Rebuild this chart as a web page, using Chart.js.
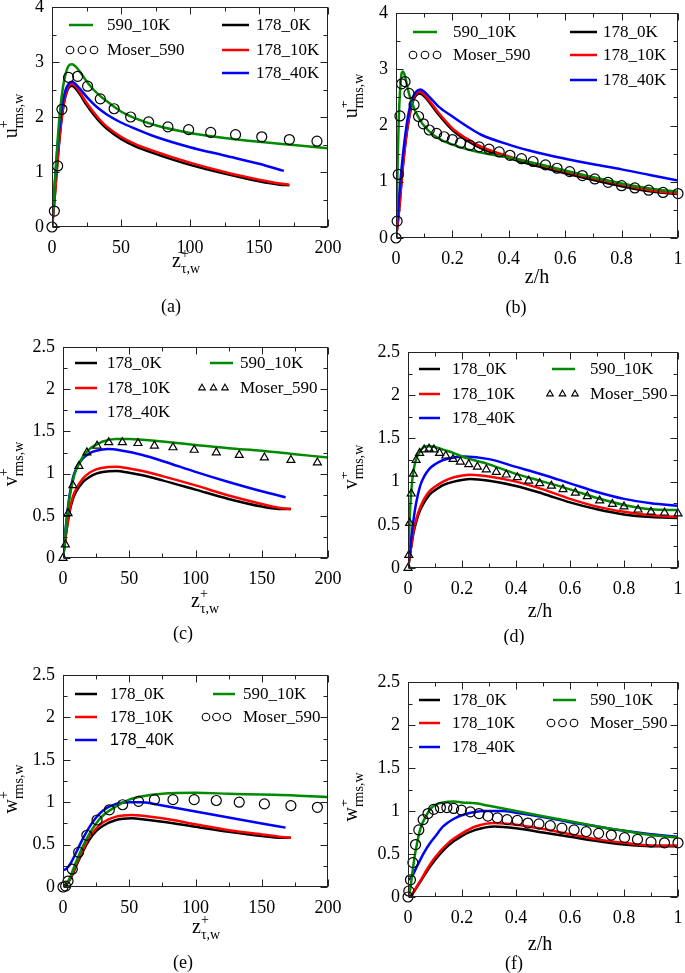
<!DOCTYPE html>
<html>
<head>
<meta charset="utf-8">
<script src="https://cdn.jsdelivr.net/npm/chart.js@4.4.1/dist/chart.umd.min.js"></script>
<style>
  body { margin: 0; background: #fff; width: 685px; height: 973px; position: relative; overflow: hidden; }
  canvas { position: absolute; }
  .warm { position: absolute; left: -999px; top: 0; }
</style>
</head>
<body>
<span class="warm" style="font-family:'Liberation Serif'">z/h τ,w</span>
<span class="warm" style="font-family:'Liberation Sans'">178_40K</span>
<canvas id="pa"></canvas><canvas id="pb"></canvas>
<canvas id="pc"></canvas><canvas id="pd"></canvas>
<canvas id="pe"></canvas><canvas id="pf"></canvas>
<script>
// series names, colours
const seriesNames = ['178_0K', '178_10K', '178_40K', '590_10K', 'Moser_590'];
const seriesColors = ['#000000', '#ff0000', '#0000ff', '#008a00', '#000000'];

// tick labels
const wallTicks = [0, 50, 100, 150, 200];
const outerTicks = [0, 0.2, 0.4, 0.6, 0.8, 1];
const uTicks = [0, 1, 2, 3, 4];
const vwTicks = [0, 0.5, 1, 1.5, 2, 2.5];

// (a) u_rms vs z+
const a_178_0K = [[0,0],[1,0.25],[2,0.55],[4,1.2],[6,1.75],[8,2.15],[10,2.4],[12,2.53],[14.5,2.57],[17,2.52],[20,2.42],[25,2.22],[30,2.05],[35,1.9],[40,1.78],[50,1.6],[60,1.47],[75,1.33],[100,1.13],[125,0.97],[150,0.83],[165,0.77],[172,0.76]];
const a_178_10K = [[0,0],[1,0.25],[2,0.55],[4,1.2],[6,1.77],[8,2.17],[10,2.43],[12,2.56],[14.5,2.6],[17,2.56],[20,2.46],[25,2.26],[30,2.09],[35,1.94],[40,1.82],[50,1.64],[60,1.51],[75,1.37],[100,1.17],[125,1.0],[150,0.86],[165,0.79],[172,0.77]];
const a_178_40K = [[0,0],[1,0.4],[2,0.8],[4,1.45],[6,1.95],[8,2.3],[10,2.5],[12,2.6],[14.5,2.64],[17,2.6],[20,2.52],[25,2.37],[30,2.24],[35,2.13],[40,2.04],[50,1.9],[60,1.79],[75,1.64],[100,1.45],[125,1.3],[150,1.15],[168,1.02]];
const a_590_10K = [[0,0],[1,0.35],[2,0.75],[4,1.55],[6,2.15],[8,2.55],[10,2.8],[12,2.93],[14.5,2.96],[17,2.92],[20,2.83],[25,2.65],[30,2.5],[35,2.38],[40,2.28],[50,2.1],[60,1.98],[75,1.85],[100,1.71],[125,1.62],[150,1.55],[175,1.49],[200,1.43]];
const a_moser = [[0,0],[1.7,0.29],[4.1,1.11],[7.2,2.14],[12,2.72],[18.6,2.74],[25.8,2.56],[35,2.33],[45,2.15],[57,2.0],[70,1.91],[84,1.82],[99,1.77],[115,1.72],[133,1.68],[152,1.64],[172,1.59],[192,1.56]];

// (b) u_rms vs z/h
const b_178_0K = [[0,0],[0.006,0.25],[0.012,0.55],[0.023,1.2],[0.035,1.75],[0.047,2.15],[0.058,2.4],[0.07,2.53],[0.084,2.57],[0.1,2.52],[0.12,2.4],[0.15,2.2],[0.2,1.92],[0.25,1.74],[0.3,1.6],[0.4,1.42],[0.5,1.28],[0.6,1.15],[0.7,1.03],[0.8,0.92],[0.9,0.83],[1,0.78]];
const b_178_10K = [[0,0],[0.006,0.25],[0.012,0.55],[0.023,1.2],[0.035,1.77],[0.047,2.17],[0.058,2.43],[0.07,2.56],[0.084,2.6],[0.1,2.55],[0.12,2.43],[0.15,2.23],[0.2,1.95],[0.25,1.77],[0.3,1.63],[0.4,1.45],[0.5,1.31],[0.6,1.18],[0.7,1.06],[0.8,0.95],[0.9,0.85],[1,0.79]];
const b_178_40K = [[0,0],[0.006,0.4],[0.012,0.8],[0.024,1.45],[0.036,1.95],[0.048,2.3],[0.06,2.5],[0.071,2.6],[0.086,2.64],[0.1,2.6],[0.12,2.5],[0.15,2.34],[0.2,2.16],[0.25,1.99],[0.3,1.84],[0.4,1.66],[0.5,1.52],[0.6,1.41],[0.7,1.31],[0.8,1.22],[0.9,1.12],[1,1.02]];
const b_590_10K = [[0,0],[0.002,0.35],[0.0034,0.75],[0.0068,1.55],[0.01,2.15],[0.0136,2.55],[0.017,2.8],[0.02,2.93],[0.025,2.96],[0.029,2.92],[0.034,2.83],[0.042,2.65],[0.05,2.5],[0.06,2.36],[0.07,2.24],[0.085,2.1],[0.1,1.99],[0.13,1.84],[0.17,1.72],[0.2,1.66],[0.25,1.58],[0.3,1.52],[0.4,1.43],[0.5,1.32],[0.6,1.2],[0.7,1.08],[0.8,0.97],[0.9,0.88],[1,0.82]];
const b_moser = [[0,0],[0.004,0.3],[0.008,1.13],[0.014,2.17],[0.02,2.74],[0.032,2.78],[0.046,2.57],[0.064,2.37],[0.08,2.16],[0.097,2.03],[0.118,1.92],[0.144,1.86],[0.171,1.8],[0.2,1.75],[0.229,1.69],[0.262,1.65],[0.295,1.62],[0.33,1.58],[0.366,1.53],[0.404,1.47],[0.445,1.41],[0.486,1.36],[0.53,1.3],[0.571,1.24],[0.616,1.18],[0.661,1.11],[0.705,1.05],[0.752,0.99],[0.8,0.93],[0.847,0.89],[0.896,0.85],[0.947,0.81],[1,0.79]];

// (c) v_rms vs z+
const c_178_0K = [[0,0],[1,0.12],[2,0.25],[3,0.36],[5,0.55],[7.5,0.7],[10,0.79],[15,0.9],[20,0.96],[25,1.0],[30,1.02],[40,1.03],[50,1.01],[60,0.98],[75,0.92],[100,0.81],[125,0.7],[150,0.61],[165,0.58],[172,0.58]];
const c_178_10K = [[0,0],[1,0.12],[2,0.26],[3,0.37],[5,0.57],[7.5,0.73],[10,0.82],[15,0.94],[20,1.01],[25,1.05],[30,1.07],[40,1.08],[50,1.06],[60,1.03],[75,0.97],[100,0.86],[125,0.74],[150,0.64],[165,0.59],[172,0.58]];
const c_178_40K = [[0,0],[1,0.18],[2,0.35],[3,0.5],[5,0.75],[7.5,0.95],[10,1.06],[15,1.18],[20,1.24],[25,1.27],[34,1.29],[45,1.27],[60,1.22],[75,1.15],[100,1.02],[125,0.9],[150,0.79],[168,0.72]];
const c_590_10K = [[0,0],[1,0.17],[2,0.33],[3,0.48],[5,0.72],[7.5,0.92],[10,1.05],[15,1.2],[20,1.29],[25,1.34],[30,1.38],[40,1.41],[50,1.41],[60,1.4],[75,1.38],[100,1.34],[125,1.3],[150,1.27],[175,1.23],[200,1.19]];
const c_moser = [[0,0],[1.8,0.16],[3.8,0.53],[7.5,0.86],[12,1.09],[18,1.25],[25.7,1.33],[34.5,1.37],[44.8,1.37],[56.6,1.36],[69,1.33],[83,1.31],[99,1.28],[115.7,1.25],[133,1.22],[152,1.19],[172,1.16],[192,1.13]];

// (d) v_rms vs z/h
const d_178_0K = [[0,0],[0.006,0.12],[0.012,0.25],[0.02,0.4],[0.03,0.53],[0.045,0.67],[0.06,0.76],[0.08,0.85],[0.1,0.9],[0.13,0.96],[0.17,1.0],[0.23,1.03],[0.3,1.01],[0.4,0.95],[0.5,0.86],[0.6,0.76],[0.7,0.68],[0.8,0.62],[0.9,0.59],[1,0.58]];
const d_178_10K = [[0,0],[0.006,0.12],[0.012,0.26],[0.02,0.42],[0.03,0.56],[0.045,0.7],[0.06,0.8],[0.08,0.89],[0.1,0.94],[0.13,1.0],[0.17,1.05],[0.23,1.08],[0.3,1.06],[0.4,1.0],[0.5,0.91],[0.6,0.8],[0.7,0.71],[0.8,0.65],[0.9,0.61],[1,0.59]];
const d_178_40K = [[0,0],[0.006,0.18],[0.012,0.35],[0.02,0.55],[0.03,0.75],[0.045,0.95],[0.06,1.06],[0.08,1.15],[0.1,1.2],[0.13,1.25],[0.17,1.28],[0.21,1.29],[0.3,1.26],[0.4,1.17],[0.5,1.08],[0.6,0.98],[0.7,0.88],[0.8,0.8],[0.9,0.75],[1,0.72]];
const d_590_10K = [[0,0],[0.0017,0.17],[0.0034,0.33],[0.005,0.48],[0.0085,0.72],[0.013,0.92],[0.017,1.05],[0.025,1.2],[0.034,1.29],[0.042,1.34],[0.051,1.38],[0.068,1.41],[0.085,1.41],[0.1,1.4],[0.13,1.37],[0.17,1.33],[0.2,1.29],[0.3,1.2],[0.4,1.09],[0.5,1.0],[0.6,0.91],[0.7,0.81],[0.8,0.73],[0.9,0.68],[1,0.67]];
const d_moser = [[0,0],[0.003,0.15],[0.006,0.52],[0.012,0.86],[0.02,1.09],[0.03,1.25],[0.043,1.33],[0.06,1.37],[0.078,1.38],[0.096,1.37],[0.117,1.33],[0.14,1.3],[0.167,1.26],[0.194,1.23],[0.225,1.2],[0.257,1.17],[0.29,1.14],[0.327,1.11],[0.364,1.08],[0.405,1.05],[0.447,1.01],[0.488,0.98],[0.531,0.95],[0.574,0.91],[0.62,0.87],[0.664,0.83],[0.71,0.78],[0.757,0.74],[0.8,0.71],[0.852,0.675],[0.9,0.65],[0.95,0.64],[1,0.63]];

// (e) w_rms vs z+
const e_178_0K = [[0,0],[2,0.02],[5,0.08],[7.5,0.16],[10,0.25],[15,0.42],[20,0.56],[25,0.66],[30,0.72],[40,0.79],[52,0.81],[60,0.8],[75,0.77],[100,0.71],[125,0.65],[150,0.6],[165,0.58],[172,0.58]];
const e_178_10K = [[0,0],[2,0.02],[5,0.09],[7.5,0.17],[10,0.27],[15,0.44],[20,0.59],[25,0.69],[30,0.76],[40,0.83],[52,0.85],[60,0.84],[75,0.81],[100,0.74],[125,0.67],[150,0.62],[165,0.59],[172,0.58]];
const e_178_40K = [[0,0.2],[2,0.21],[5,0.26],[7.5,0.33],[10,0.41],[15,0.57],[20,0.71],[25,0.82],[30,0.9],[40,0.98],[50,1.0],[60,1.0],[75,0.96],[100,0.89],[125,0.82],[150,0.75],[168,0.7]];
const e_590_10K = [[0,0],[2,0.03],[5,0.1],[7.5,0.2],[10,0.3],[15,0.48],[20,0.63],[25,0.75],[30,0.84],[40,0.95],[50,1.03],[60,1.07],[75,1.1],[100,1.11],[125,1.1],[150,1.09],[175,1.08],[200,1.06]];
const e_moser = [[0,0],[2,0.01],[3.8,0.07],[7,0.21],[11.8,0.41],[18,0.61],[25.7,0.79],[35,0.91],[45,0.97],[57,1.01],[69,1.03],[83,1.03],[99,1.03],[115.7,1.02],[133,1.0],[152,0.98],[172,0.96],[192,0.94]];

// (f) w_rms vs z/h
const f_178_0K = [[0,0],[0.012,0.02],[0.03,0.1],[0.05,0.2],[0.07,0.3],[0.1,0.43],[0.15,0.6],[0.2,0.71],[0.25,0.78],[0.32,0.82],[0.4,0.8],[0.5,0.75],[0.6,0.7],[0.7,0.65],[0.8,0.61],[0.9,0.59],[1,0.59]];
const f_178_10K = [[0,0],[0.012,0.02],[0.03,0.11],[0.05,0.21],[0.07,0.32],[0.1,0.46],[0.15,0.63],[0.2,0.74],[0.25,0.82],[0.32,0.86],[0.4,0.84],[0.5,0.79],[0.6,0.73],[0.7,0.67],[0.8,0.63],[0.9,0.6],[1,0.6]];
const f_178_40K = [[0,0.2],[0.01,0.22],[0.02,0.27],[0.04,0.4],[0.06,0.52],[0.08,0.62],[0.1,0.7],[0.13,0.82],[0.17,0.91],[0.22,0.97],[0.28,1.0],[0.35,1.0],[0.4,0.98],[0.5,0.93],[0.6,0.87],[0.7,0.82],[0.8,0.77],[0.9,0.73],[1,0.7]];
const f_590_10K = [[0,0],[0.0034,0.03],[0.0085,0.1],[0.013,0.2],[0.017,0.3],[0.025,0.48],[0.034,0.63],[0.042,0.75],[0.051,0.84],[0.068,0.95],[0.085,1.03],[0.1,1.07],[0.13,1.1],[0.17,1.11],[0.2,1.1],[0.25,1.09],[0.3,1.06],[0.4,1.0],[0.5,0.94],[0.6,0.88],[0.7,0.82],[0.8,0.77],[0.9,0.72],[1,0.69]];
const f_moser = [[0,0],[0.003,0.07],[0.009,0.2],[0.018,0.4],[0.028,0.61],[0.04,0.78],[0.056,0.9],[0.074,0.97],[0.095,1.02],[0.12,1.04],[0.144,1.04],[0.169,1.03],[0.198,1.01],[0.231,0.99],[0.263,0.97],[0.296,0.94],[0.331,0.92],[0.367,0.9],[0.405,0.89],[0.444,0.86],[0.485,0.85],[0.527,0.83],[0.57,0.8],[0.615,0.78],[0.66,0.76],[0.706,0.74],[0.753,0.72],[0.802,0.69],[0.85,0.67],[0.9,0.64],[0.95,0.63],[1,0.63]];

const SERIF = '"Liberation Serif", "DejaVu Serif", serif';
const SANS = '"Liberation Sans", Arial, sans-serif';
const YW = 45, XH = 30;

const wallTitle = { base: 'z', sup: '+', sub: 'τ,w' };

// dataset order: 0 marker, 1 = 590_10K, 2 = 178_40K, 3 = 178_10K, 4 = 178_0K
// legend rows: [dataset, symbol x, row y, symbol length, text x] (page pixels)
const panels = [
  { id: 'pa', cell: [0, 0, 342, 320], area: [52, 7, 328, 227], xt: wallTicks, yt: uTicks, marker: 'circle',
    sets: [a_moser, a_590_10K, a_178_40K, a_178_10K, a_178_0K],
    legend: [[1, 69, 25, 24, 107], [0, 70, 50, 24, 107], [4, 222, 25, 27, 256], [3, 222, 50, 27, 256], [2, 222, 73, 27, 256]],
    yTitle: { base: 'u', x: 17, y: 116 }, xTitle: Object.assign({ x: 172, y: 267 }, wallTitle), tag: ['(a)', 171, 307] },
  { id: 'pb', cell: [342, 0, 343, 320], area: [396, 13, 678, 238], xt: outerTicks, yt: uTicks, marker: 'circle',
    sets: [b_moser, b_590_10K, b_178_40K, b_178_10K, b_178_0K],
    legend: [[1, 413, 32, 24, 453], [0, 413, 55, 24, 453], [4, 570, 32, 27, 603], [3, 570, 55, 27, 603], [2, 570, 80, 27, 603]],
    yTitle: { base: 'u', x: 357, y: 96 }, xTitle: { text: 'z/h', x: 537, y: 283 }, tag: ['(b)', 516, 308] },
  { id: 'pc', cell: [0, 320, 342, 325], area: [63, 347, 328, 558], xt: wallTicks, yt: vwTicks, marker: 'triangle',
    sets: [c_moser, c_590_10K, c_178_40K, c_178_10K, c_178_0K],
    legend: [[4, 75, 363, 22, 107], [3, 75, 388, 22, 107], [2, 75, 412, 22, 107], [1, 210, 363, 23, 240], [0, 202, 388, 23, 240]],
    yTitle: { base: 'v', x: 17, y: 464 }, xTitle: Object.assign({ x: 191, y: 607 }, wallTitle), tag: ['(c)', 183, 634] },
  { id: 'pd', cell: [342, 320, 343, 325], area: [408, 352, 678, 568], xt: outerTicks, yt: vwTicks, marker: 'triangle',
    sets: [d_moser, d_590_10K, d_178_40K, d_178_10K, d_178_0K],
    legend: [[4, 419, 369, 21, 452], [3, 419, 394, 21, 452], [2, 419, 418, 21, 452], [1, 552, 369, 23, 590], [0, 550, 394, 25, 590]],
    yTitle: { base: 'v', x: 357, y: 467 }, xTitle: { text: 'z/h', x: 540, y: 617 }, tag: ['(d)', 514, 637] },
  { id: 'pe', cell: [0, 645, 342, 328], area: [63, 675, 328, 887], xt: wallTicks, yt: vwTicks, marker: 'circle',
    sets: [e_moser, e_590_10K, e_178_40K, e_178_10K, e_178_0K],
    legend: [[4, 75, 694, 22, 110], [3, 75, 717, 22, 110], [2, 75, 740, 22, 110, 'sans'], [1, 213, 694, 22, 243], [0, 206, 717, 21, 243]],
    yTitle: { base: 'w', x: 17, y: 789 }, xTitle: Object.assign({ x: 192, y: 933 }, wallTitle), tag: ['(e)', 183, 963] },
  { id: 'pf', cell: [342, 645, 343, 328], area: [408, 682, 678, 897], xt: outerTicks, yt: vwTicks, marker: 'circle',
    sets: [f_moser, f_590_10K, f_178_40K, f_178_10K, f_178_0K],
    legend: [[4, 419, 700, 21, 452], [3, 419, 723, 21, 452], [2, 419, 747, 21, 452], [1, 553, 700, 23, 590], [0, 551, 723, 23, 590]],
    yTitle: { base: 'w', x: 357, y: 797 }, xTitle: { text: 'z/h', x: 540, y: 950 }, tag: ['(f)', 514, 964] },
];

const nameIdx = [4, 3, 2, 1, 0]; // dataset slot -> seriesNames index

function richTitle(ctx, t, sub, x, y, centred) {
  ctx.font = '20px ' + SERIF;
  const bw = ctx.measureText(t.base).width;
  ctx.font = '14px ' + SERIF;
  const sw = ctx.measureText(sub).width;
  const x0 = centred ? x - (bw + sw) / 2 : x;
  ctx.textAlign = 'left';
  ctx.textBaseline = 'alphabetic';
  ctx.font = '20px ' + SERIF;
  ctx.fillText(t.base, x0, y);
  ctx.font = '14px ' + SERIF;
  ctx.fillText('+', x0 + bw, y - 9);
  ctx.fillText(sub, x0 + bw, y + 6);
}

const panelDeco = {
  id: 'panelDeco',
  afterDatasetsDraw(chart) {
    const { ctx, chartArea: a } = chart;
    const xs = chart.scales.x, ys = chart.scales.y;
    const L = Math.round(a.left) + 0.5, R = Math.round(a.right) - 0.5;
    const T = Math.round(a.top) + 0.5, B = Math.round(a.bottom) - 0.5;
    ctx.save();
    ctx.strokeStyle = '#222';
    ctx.lineWidth = 1;
    ctx.strokeRect(L, T, R - L, B - T);
    const marks = (vals) => {
      const out = [];
      vals.forEach((v, i) => {
        out.push([v, 7]);
        if (i < vals.length - 1) out.push([(v + vals[i + 1]) / 2, 4]);
      });
      return out;
    };
    ctx.beginPath();
    marks(xs.ticks.map(t => t.value)).forEach(([v, len]) => {
      const p = Math.round(xs.getPixelForValue(v)) + 0.5;
      ctx.moveTo(p, B); ctx.lineTo(p, B - len);
      ctx.moveTo(p, T); ctx.lineTo(p, T + len);
    });
    marks(ys.ticks.map(t => t.value)).forEach(([v, len]) => {
      const p = Math.round(ys.getPixelForValue(v)) + 0.5;
      ctx.moveTo(L, p); ctx.lineTo(L + len, p);
      ctx.moveTo(R, p); ctx.lineTo(R - len, p);
    });
    ctx.stroke();
    ctx.restore();
  },
  afterDraw(chart, args, o) {
    const ctx = chart.ctx;
    const p = o.panel;
    const ox = p.cell[0], oy = p.cell[1];
    ctx.save();
    // legend inside plot
    p.legend.forEach(([di, sx, sy, w, tx, fam]) => {
      const ds = chart.data.datasets[di];
      const x = sx - ox, y = sy - oy;
      if (ds.showLine) {
        ctx.strokeStyle = ds.borderColor;
        ctx.lineWidth = 2.5;
        ctx.beginPath(); ctx.moveTo(x, y); ctx.lineTo(x + w, y); ctx.stroke();
      } else {
        ctx.strokeStyle = '#000';
        ctx.fillStyle = 'rgba(0,0,0,0)';
        ctx.lineWidth = 1.1;
        [0, 0.5, 1].forEach(f => {
          Chart.helpers.drawPoint(ctx, { pointStyle: ds.pointStyle, radius: 3.8, borderWidth: 1.1, rotation: 0 }, x + f * w, y);
        });
      }
      ctx.fillStyle = '#000';
      ctx.font = fam === 'sans' ? '16px ' + SANS : '17px ' + SERIF;
      ctx.textAlign = 'left';
      ctx.textBaseline = 'middle';
      ctx.fillText(ds.label, tx - ox, y + 1);
    });
    ctx.fillStyle = '#000';
    // y title, rotated
    ctx.save();
    ctx.translate(p.yTitle.x - ox, p.yTitle.y - oy);
    ctx.rotate(-Math.PI / 2);
    richTitle(ctx, p.yTitle, 'rms,w', 0, 0, true);
    ctx.restore();
    // x title
    if (p.xTitle.text) {
      ctx.font = '20px ' + SERIF;
      ctx.textAlign = 'center';
      ctx.textBaseline = 'alphabetic';
      ctx.fillText(p.xTitle.text, p.xTitle.x - ox, p.xTitle.y - oy);
    } else {
      richTitle(ctx, p.xTitle, p.xTitle.sub, p.xTitle.x - ox, p.xTitle.y - oy, false);
    }
    // panel tag
    ctx.font = '18px ' + SERIF;
    ctx.textAlign = 'center';
    ctx.textBaseline = 'middle';
    ctx.fillText(p.tag[0], p.tag[1] - ox, p.tag[2] - oy);
    ctx.restore();
  }
};

function axis(vals, pad, fit) {
  return {
    type: 'linear',
    min: vals[0],
    max: vals[vals.length - 1],
    afterBuildTicks: s => { s.ticks = vals.map(v => ({ value: v })); },
    ticks: { color: '#000', font: { family: SERIF, size: 18 }, padding: pad, maxRotation: 0, autoSkip: false, callback: v => String(v) },
    grid: { display: false, drawTicks: false },
    border: { display: false },
    afterFit: s => {
      fit(s);
      s.paddingLeft = s.paddingRight = s.paddingTop = s.paddingBottom = 0;
    }
  };
}

function build() {
  panels.forEach(p => {
    const [cx, cy, cw, ch] = p.cell;
    const [L, T, R, B] = p.area;
    const cv = document.getElementById(p.id);
    cv.width = cw; cv.height = ch;
    cv.style.left = cx + 'px'; cv.style.top = cy + 'px';
    cv.style.width = cw + 'px'; cv.style.height = ch + 'px';

    const datasets = p.sets.map((pts, i) => {
      const name = seriesNames[nameIdx[i]];
      const color = seriesColors[nameIdx[i]];
      const data = pts.map(([x, y]) => ({ x, y }));
      if (i === 0) {
        return { label: name, data, showLine: false, pointStyle: p.marker,
          pointRadius: p.marker === 'circle' ? 5 : 4.6, pointBorderWidth: 1.2,
          borderColor: color, backgroundColor: 'rgba(0,0,0,0)', clip: false };
      }
      return { label: name, data, showLine: true, borderColor: color, backgroundColor: color,
        borderWidth: 2.5, pointRadius: 0, cubicInterpolationMode: 'monotone', fill: false };
    });

    new Chart(cv, {
      type: 'scatter',
      data: { datasets },
      options: {
        responsive: false,
        animation: false,
        events: [],
        layout: { padding: { left: L - cx - YW, top: T - cy, right: cx + cw - R, bottom: cy + ch - B - XH } },
        plugins: { legend: { display: false }, tooltip: { enabled: false }, panelDeco: { panel: p } },
        scales: {
          x: axis(p.xt, 10, s => { s.height = XH; }),
          y: axis(p.yt, 8, s => { s.width = YW; })
        }
      },
      plugins: [panelDeco]
    });
  });
}

Promise.all([
  document.fonts.load('16px "Liberation Serif"'),
  document.fonts.load('16px "Liberation Sans"')
]).then(build, build);
</script>
</body>
</html>
